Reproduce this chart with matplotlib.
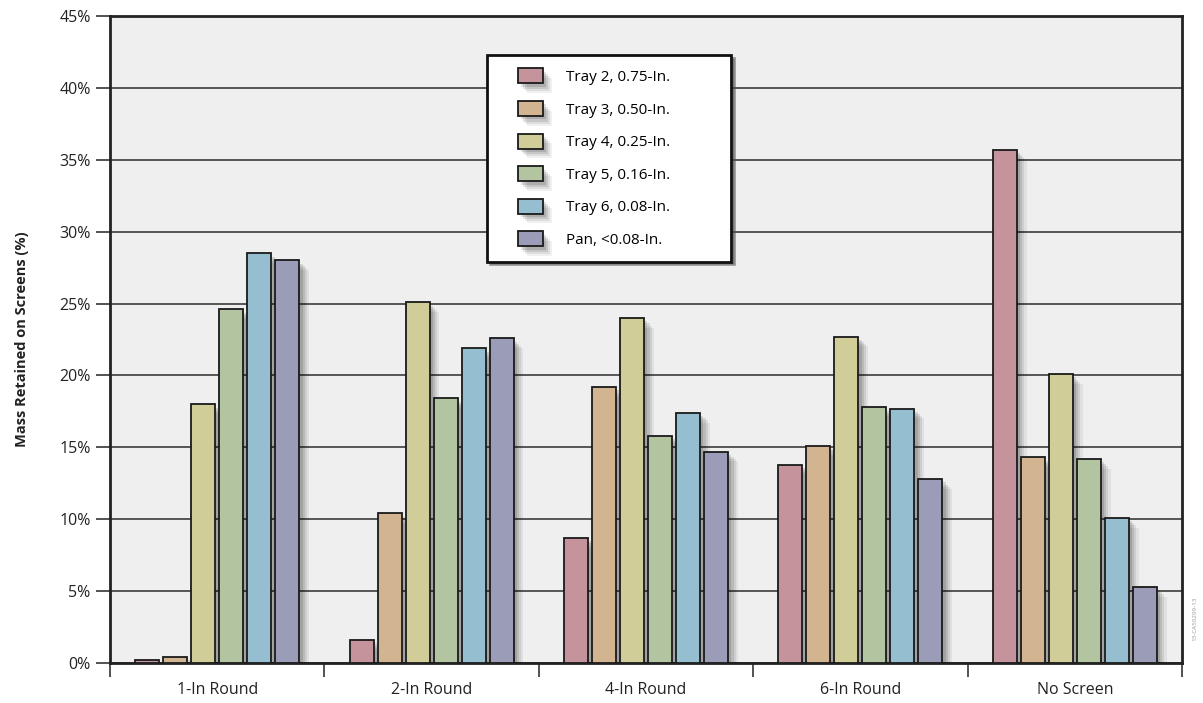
import matplotlib.pyplot as plt
import matplotlib.patheffects as pe
import numpy as np
from matplotlib.patches import Rectangle
from matplotlib.legend_handler import HandlerPatch
from matplotlib.ticker import FuncFormatter, MultipleLocator

plt.rcParams['font.family'] = ['Open Sans', 'DejaVu Sans']

categories = ['1-In Round', '2-In Round', '4-In Round', '6-In Round', 'No Screen']
series = ['Tray 2, 0.75-In.', 'Tray 3, 0.50-In.', 'Tray 4, 0.25-In.',
          'Tray 5, 0.16-In.', 'Tray 6, 0.08-In.', 'Pan, <0.08-In.']

tray2 = [0.2, 1.6, 8.7, 13.8, 35.7]
tray3 = [0.45, 10.4, 19.2, 15.1, 14.3]
tray4 = [18.0, 25.1, 24.0, 22.7, 20.1]
tray5 = [24.6, 18.4, 15.8, 17.8, 14.2]
tray6 = [28.5, 21.9, 17.4, 17.7, 10.1]
pan = [28.0, 22.6, 14.7, 12.8, 5.3]
values = [tray2, tray3, tray4, tray5, tray6, pan]

colors = ['#c4939b', '#d3b491', '#d1cd98', '#b2c4a0', '#95bfd0', '#9a9cb8']

# fake soft drop shadow: a few offset copies with low alpha
shadow = [pe.SimplePatchShadow(offset=(o, -o), shadow_rgbFace='black', alpha=a)
          for o, a in [(7, 0.06), (5.5, 0.08), (4, 0.1), (2.5, 0.12)]] + [pe.Normal()]
small_shadow = [pe.SimplePatchShadow(offset=(o, -o), shadow_rgbFace='black', alpha=a)
                for o, a in [(3, 0.12), (2, 0.15)]] + [pe.Normal()]


def legend_box(legend, orig_handle, xdescent, ydescent, width, height, fontsize):
    # swatch sits at the right end of the handle area, like the original
    w, h = 18, 10.8
    r = Rectangle((width - w - xdescent, (height - h) / 2 - ydescent), w, h)
    r.set_path_effects(small_shadow)
    return r


fig = plt.figure(figsize=(12.03, 7.03), dpi=100)
ax = fig.add_axes([110 / 1203, 1 - 663 / 703, 1072 / 1203, 647 / 703])
ax.set_facecolor('#efefef')

x = np.arange(len(categories))
step = 0.1306
width = 0.112
handles = []
for i, (vals, name, col) in enumerate(zip(values, series, colors)):
    bars = ax.bar(x + (i - 2.5) * step, vals, width, color=col, edgecolor='#1a1a1a',
                  linewidth=1.3, label=name, zorder=3)
    for b in bars:
        b.set_path_effects(shadow)
    handles.append(bars)

ax.set_xlim(-0.5, len(categories) - 0.5)
ax.set_ylim(0, 45)
ax.yaxis.set_major_locator(MultipleLocator(5))
ax.yaxis.set_major_formatter(FuncFormatter(lambda v, p: f'{v:.0f}%'))
ax.grid(axis='y', color='#555555', linewidth=1.4, zorder=1)
ax.set_axisbelow(True)

ax.set_xticks(x)
ax.set_xticklabels(categories, fontsize=11.5, color='#222222')
ax.set_xticks(np.arange(len(categories) + 1) - 0.5, minor=True)
ax.tick_params(axis='x', which='major', length=0, pad=14)
ax.tick_params(axis='x', which='minor', length=10, width=1.3, color='#444444', direction='out')
ax.tick_params(axis='y', length=10, width=1.3, color='#444444', labelsize=11.5,
               labelcolor='#222222', pad=4)

for s in ax.spines.values():
    s.set_linewidth(2)
    s.set_color('#222222')

ax.set_ylabel('Mass Retained on Screens (%)', fontsize=10.5, fontweight='bold',
              color='#222222', labelpad=22)

leg = ax.legend(handles=[h.patches[0] for h in handles], labels=series,
                loc='upper left',
                bbox_to_anchor=(487 / 1203, 1 - 56 / 703, 244 / 1203, 0.001),
                bbox_transform=fig.transFigure, mode='expand', fontsize=11,
                frameon=True, fancybox=False, shadow=True, edgecolor='#111111',
                borderpad=0.9, labelspacing=1.08, handlelength=2.75,
                handleheight=1.0, handletextpad=1.5, borderaxespad=0,
                handler_map={Rectangle: HandlerPatch(patch_func=legend_box)})
leg.get_frame().set_linewidth(2)
leg.get_frame().set_facecolor('white')
leg.set_zorder(5)

fig.text(0.993, 0.12, '13-CA50299-13', rotation=90, fontsize=4.5, color='#999999',
         ha='center', va='center')

fig.savefig('out.png', dpi=100)
